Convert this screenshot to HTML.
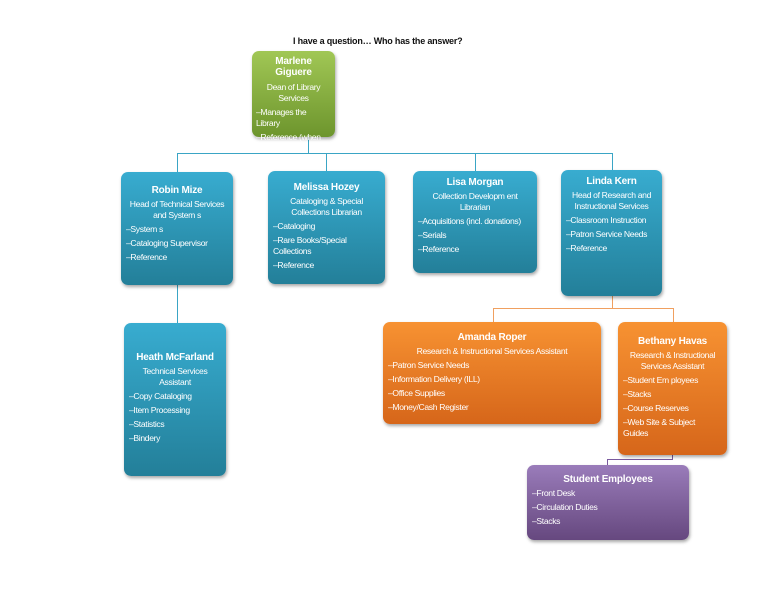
<!DOCTYPE html>
<html><head><meta charset="utf-8"><style>
*{margin:0;padding:0;box-sizing:border-box}
body{width:768px;height:594px;background:#fff;position:relative;overflow:hidden;font-family:"Liberation Sans",sans-serif}
.b{position:absolute;border-radius:7px;color:#fff;font-size:8.6px;line-height:11px;letter-spacing:-0.35px;padding:6px 5px;box-shadow:1px 2px 3px rgba(0,0,0,.35)}
.b .n{font-weight:bold;font-size:10px;text-align:center;margin-bottom:3px;letter-spacing:-0.2px}
.b .t{text-align:center;margin-bottom:3px}
.b p{margin-bottom:3px}
.blue{background:linear-gradient(#38acd0,#237f99)}
.green{background:linear-gradient(#a1c755,#6d952d)}
.or{background:linear-gradient(#f79232,#d6661a)}
.pu{background:linear-gradient(#9a7cba,#66487f)}
.l{position:absolute;background:#3aa5c5}
.lo{position:absolute;background:#f0a060}
.lp{position:absolute;background:#7a5a9e}
</style></head><body>
<div style="position:absolute;left:293px;top:36px;font-size:9px;font-weight:bold;letter-spacing:-0.2px;color:#111">I have a question… Who has the answer?</div>

<div class="l" style="left:308px;top:137px;width:1px;height:17px"></div>
<div class="l" style="left:177px;top:153px;width:436px;height:1px"></div>
<div class="l" style="left:177px;top:153px;width:1px;height:19px"></div>
<div class="l" style="left:326px;top:153px;width:1px;height:18px"></div>
<div class="l" style="left:475px;top:153px;width:1px;height:18px"></div>
<div class="l" style="left:612px;top:153px;width:1px;height:17px"></div>
<div class="l" style="left:177px;top:285px;width:1px;height:38px"></div>
<div class="lo" style="left:612px;top:296px;width:1px;height:12px"></div>
<div class="lo" style="left:493px;top:308px;width:181px;height:1px"></div>
<div class="lo" style="left:493px;top:308px;width:1px;height:14px"></div>
<div class="lo" style="left:673px;top:308px;width:1px;height:14px"></div>
<div class="lp" style="left:672px;top:455px;width:1px;height:5px"></div>
<div class="lp" style="left:607px;top:459px;width:66px;height:1px"></div>
<div class="lp" style="left:607px;top:459px;width:1px;height:6px"></div>

<div class="b green" style="left:252px;top:51px;width:83px;height:86px;padding:5px 4px">
<div class="n" style="margin-bottom:4px">Marlene Giguere</div>
<div class="t">Dean of Library Services</div>
<p>–Manages the Library</p>
<p style="line-height:10px">–Reference (when library is short-staffed)</p></div>

<div class="b blue" style="left:121px;top:172px;width:112px;height:113px;padding-top:13px">
<div class="n">Robin Mize</div>
<div class="t">Head of Technical Services and System s</div>
<p>–System s</p><p>–Cataloging Supervisor</p><p>–Reference</p></div>

<div class="b blue" style="left:268px;top:171px;width:117px;height:113px;padding-top:11px">
<div class="n">Melissa Hozey</div>
<div class="t">Cataloging &amp; Special Collections Librarian</div>
<p>–Cataloging</p><p>–Rare Books/Special Collections</p><p>–Reference</p></div>

<div class="b blue" style="left:413px;top:171px;width:124px;height:102px;padding-top:6px">
<div class="n">Lisa Morgan</div>
<div class="t">Collection Developm ent Librarian</div>
<p>–Acquisitions (incl. donations)</p><p>–Serials</p><p>–Reference</p></div>

<div class="b blue" style="left:561px;top:170px;width:101px;height:126px;padding-top:6px">
<div class="n">Linda Kern</div>
<div class="t">Head of Research and Instructional Services</div>
<p>–Classroom Instruction</p><p>–Patron Service Needs</p><p>–Reference</p></div>

<div class="b blue" style="left:124px;top:323px;width:102px;height:153px;padding-top:29px">
<div class="n">Heath McFarland</div>
<div class="t">Technical Services Assistant</div>
<p>–Copy Cataloging</p><p>–Item Processing</p><p>–Statistics</p><p>–Bindery</p></div>

<div class="b or" style="left:383px;top:322px;width:218px;height:102px;padding-top:10px">
<div class="n">Amanda Roper</div>
<div class="t">Research &amp; Instructional Services Assistant</div>
<p>–Patron Service Needs</p><p>–Information Delivery (ILL)</p><p>–Office Supplies</p><p>–Money/Cash Register</p></div>

<div class="b or" style="left:618px;top:322px;width:109px;height:133px;padding-top:14px">
<div class="n">Bethany Havas</div>
<div class="t">Research &amp; Instructional Services Assistant</div>
<p>–Student Em ployees</p><p>–Stacks</p><p>–Course Reserves</p><p>–Web Site &amp; Subject Guides</p></div>

<div class="b pu" style="left:527px;top:465px;width:162px;height:75px;padding-top:9px">
<div class="n">Student Employees</div>
<p>–Front Desk</p><p>–Circulation Duties</p><p>–Stacks</p></div>
</body></html>
